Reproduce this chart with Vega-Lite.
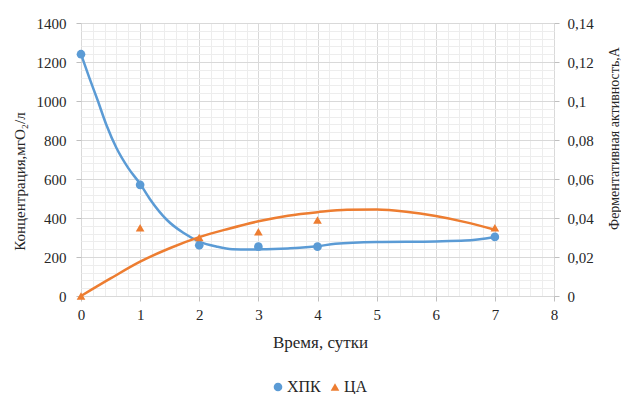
{
  "$schema": "https://vega.github.io/schema/vega-lite/v6.json",
  "autosize": "none",
  "width": 473,
  "height": 273,
  "padding": {"left": 81, "top": 23, "right": 67, "bottom": 98},
  "background": "white",
  "config": {
    "view": {"stroke": null},
    "font": "Liberation Serif",
    "style": {"guide-label": {"font": "Liberation Serif"}, "guide-title": {"font": "Liberation Serif"}},
    "axis": {
      "labelFont": "Liberation Serif",
      "titleFont": "Liberation Serif",
      "labelFontSize": 15,
      "titleFontSize": 16,
      "titleFontWeight": "normal",
      "labelColor": "#262626",
      "titleColor": "#262626",
      "domain": false,
      "tickSize": 5,
      "tickColor": "#bfbfbf"
    },
    "legend": {"labelFont": "Liberation Serif", "labelFontSize": 15, "labelColor": "#262626"}
  },
  "datasets": {
    "blueCurve": [
      {"t": 0, "v": 1240}, {"t": 0.14, "v": 1120}, {"t": 0.28, "v": 1005}, {"t": 0.43, "v": 877},
      {"t": 0.6, "v": 759}, {"t": 0.8, "v": 656}, {"t": 1.0, "v": 575}, {"t": 1.17, "v": 495},
      {"t": 1.45, "v": 391}, {"t": 1.73, "v": 324}, {"t": 2.0, "v": 279}, {"t": 2.3, "v": 253},
      {"t": 2.56, "v": 240}, {"t": 2.85, "v": 238}, {"t": 3.14, "v": 240}, {"t": 3.5, "v": 244},
      {"t": 3.7, "v": 247}, {"t": 4.0, "v": 255}, {"t": 4.3, "v": 268}, {"t": 5.0, "v": 277},
      {"t": 6.0, "v": 280}, {"t": 6.5, "v": 284}, {"t": 7.0, "v": 303}
    ],
    "bluePts": [
      {"t": 0, "v": 1240, "s": "ХПК"}, {"t": 1, "v": 570, "s": "ХПК"}, {"t": 2, "v": 260, "s": "ХПК"},
      {"t": 3, "v": 253, "s": "ХПК"}, {"t": 4, "v": 253, "s": "ХПК"}, {"t": 7, "v": 303, "s": "ХПК"}
    ],
    "orangeCurve": [
      {"t": 0, "v": 0}, {"t": 0.5, "v": 0.009}, {"t": 1, "v": 0.0176}, {"t": 1.5, "v": 0.0245},
      {"t": 2, "v": 0.0302}, {"t": 2.5, "v": 0.0345}, {"t": 3, "v": 0.0383}, {"t": 3.5, "v": 0.0412},
      {"t": 4, "v": 0.043}, {"t": 4.5, "v": 0.0442}, {"t": 5, "v": 0.0443}, {"t": 5.5, "v": 0.0432},
      {"t": 6, "v": 0.041}, {"t": 6.5, "v": 0.0379}, {"t": 7, "v": 0.034}
    ],
    "orangePts": [
      {"t": 0, "v": 0, "s": "ЦА"}, {"t": 1, "v": 0.035, "s": "ЦА"}, {"t": 2, "v": 0.030, "s": "ЦА"},
      {"t": 3, "v": 0.033, "s": "ЦА"}, {"t": 4, "v": 0.039, "s": "ЦА"}, {"t": 7, "v": 0.035, "s": "ЦА"}
    ]
  },
  "encoding": {
    "x": {
      "field": "t", "type": "quantitative",
      "scale": {"domain": [0, 8], "nice": false, "zero": false},
      "axis": {
        "title": "Время, сутки",
        "titleFont": "Liberation Serif",
        "titleFontSize": 17,
        "labelFont": "Liberation Serif",
        "values": [0,0.2,0.4,0.6,0.8,1,1.2,1.4,1.6,1.8,2,2.2,2.4,2.6,2.8,3,3.2,3.4,3.6,3.8,4,4.2,4.4,4.6,4.8,5,5.2,5.4,5.6,5.8,6,6.2,6.4,6.6,6.8,7,7.2,7.4,7.6,7.8,8],
        "labelExpr": "datum.value % 1 === 0 ? format(datum.value, 'd') : ''",
        "labelOverlap": false,
        "labelFlush": false,
        "labelPadding": 6,
        "grid": true,
        "gridColor": {"condition": {"test": "datum.value % 1 === 0", "value": "#d9d9d9"}, "value": "#ededed"},
        "gridWidth": 1,
        "tickOpacity": {"condition": {"test": "datum.value % 1 === 0", "value": 1}, "value": 0},
        "titleX": 239,
        "titleY": 46,
        "titleBaseline": "middle"
      }
    }
  },
  "layer": [
    {
      "encoding": {
        "y": {
          "field": "v", "type": "quantitative",
          "scale": {"domain": [0, 1400], "nice": false},
          "axis": {
            "orient": "left",
            "title": "Концентрация,мгО₂/л",
            "titleFont": "Liberation Serif",
            "titleFontSize": 15,
            "labelFont": "Liberation Serif",
            "values": [0,40,80,120,160,200,240,280,320,360,400,440,480,520,560,600,640,680,720,760,800,840,880,920,960,1000,1040,1080,1120,1160,1200,1240,1280,1320,1360,1400],
            "labelExpr": "datum.value % 200 === 0 ? format(datum.value, 'd') : ''",
            "labelOverlap": false,
            "labelFlush": false,
            "labelPadding": 10,
            "grid": true,
            "gridColor": {"condition": {"test": "datum.value % 200 === 0", "value": "#d9d9d9"}, "value": "#ededed"},
            "tickOpacity": {"condition": {"test": "datum.value % 200 === 0", "value": 1}, "value": 0},
            "titleAngle": 270,
            "titleX": -62,
            "titleY": 158,
            "titleAlign": "center",
            "titleBaseline": "middle"
          }
        }
      },
      "layer": [
        {
          "data": {"name": "blueCurve"},
          "mark": {"type": "line", "color": "#5B9BD5", "strokeWidth": 2.5, "interpolate": "monotone"}
        },
        {
          "data": {"name": "bluePts"},
          "mark": {"type": "point", "filled": true, "opacity": 1, "size": 75},
          "encoding": {
            "color": {"field": "s", "type": "nominal", "scale": {"domain": ["ХПК", "ЦА"], "range": ["#5B9BD5", "#ED7D31"]},
              "legend": {"title": null, "orient": "none", "direction": "horizontal", "legendX": 189, "legendY": 356, "symbolSize": 75, "columnPadding": 6, "labelOffset": 1, "labelFont": "Liberation Serif", "labelFontSize": 16}},
            "shape": {"field": "s", "type": "nominal", "scale": {"domain": ["ХПК", "ЦА"], "range": ["circle", "triangle-up"]},
              "legend": {"title": null, "orient": "none", "direction": "horizontal", "legendX": 189, "legendY": 356, "symbolSize": 75, "columnPadding": 6, "labelOffset": 1, "labelFont": "Liberation Serif", "labelFontSize": 16}}
          }
        }
      ]
    },
    {
      "encoding": {
        "y": {
          "field": "v", "type": "quantitative",
          "scale": {"domain": [0, 0.14], "nice": false},
          "axis": {
            "orient": "right",
            "title": "Ферментативная  активность,А",
            "titleFont": "Liberation Serif",
            "titleFontSize": 14,
            "labelFont": "Liberation Serif",
            "values": [0,0.02,0.04,0.06,0.08,0.1,0.12,0.14],
            "labelExpr": "replace(format(datum.value, ''), '.', ',')",
            "labelOverlap": false,
            "labelFlush": false,
            "labelPadding": 8,
            "grid": false,
            "titleAngle": 270,
            "titleX": 60,
            "titleY": 115,
            "titleAlign": "center",
            "titleBaseline": "middle"
          }
        }
      },
      "layer": [
        {
          "data": {"name": "orangeCurve"},
          "mark": {"type": "line", "color": "#ED7D31", "strokeWidth": 2.5, "interpolate": "monotone"}
        },
        {
          "data": {"name": "orangePts"},
          "mark": {"type": "point", "filled": true, "opacity": 1, "size": 75},
          "encoding": {
            "color": {"field": "s", "type": "nominal"},
            "shape": {"field": "s", "type": "nominal"}
          }
        }
      ]
    }
  ],
  "resolve": {"scale": {"y": "independent"}}
}
